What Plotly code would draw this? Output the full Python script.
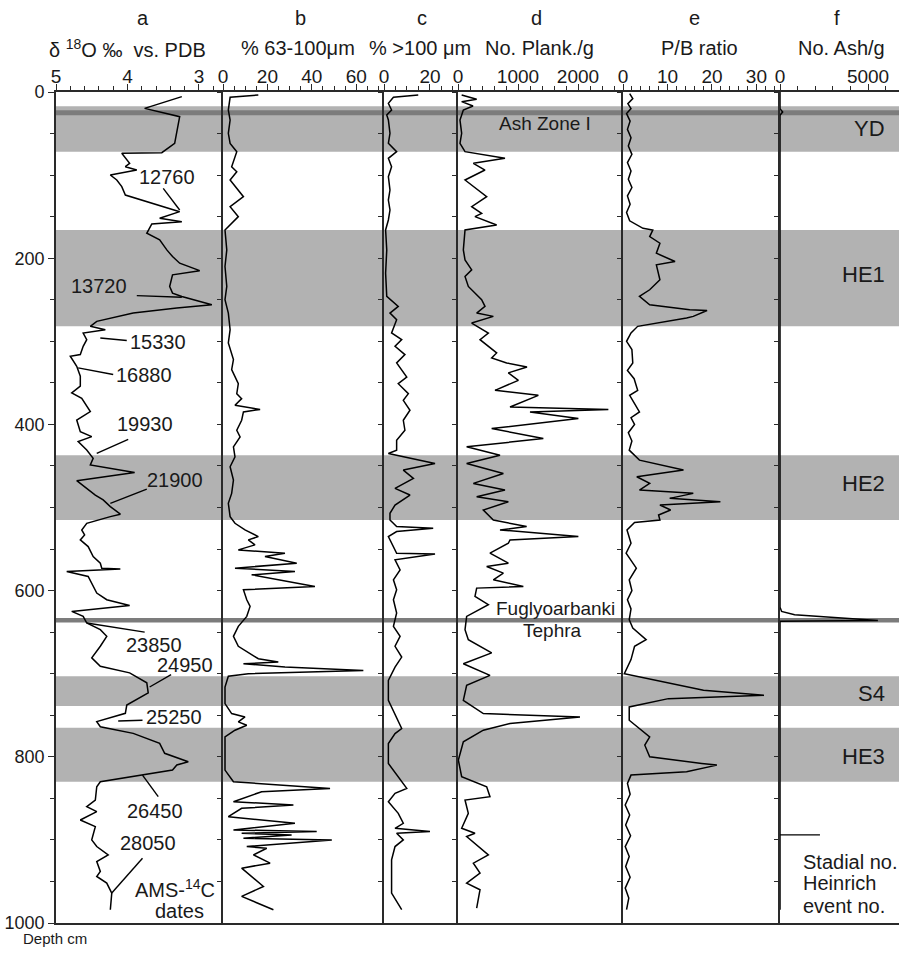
import plotly.graph_objects as go

# ---------------- data (depth in cm) ----------------
depth_a = [5.6, 19.7, 29.7, 61.8, 73, 73.8, 85.8, 89.9, 93.9, 99.9, 105.9, 113.9, 124, 144, 152, 156, 158.8, 170, 178,
           190, 198, 206, 215, 220, 234, 242, 246, 256, 260, 266, 276, 282, 286, 290, 298, 306, 316, 318, 330, 342, 354,
           362, 368.6, 384.6, 394.7, 408.7, 414.7, 420.7, 430.8, 440.8, 448.8, 458, 467.7, 478, 485, 490.9, 498.9, 508,
           511, 519, 527, 533, 539, 547, 553, 559, 567, 573, 574, 577, 583, 603, 611, 618, 625, 631, 639, 647, 655, 667,
           681, 691, 699, 711, 723, 737.7, 747.7, 757.7, 763.8, 771.8, 783.8, 795.8, 805.9, 809.9, 815.9, 822, 830, 836,
           852, 860, 866, 876, 884, 900, 908, 918, 926, 938, 944, 952, 964, 984]
d18o = [3.24, 3.76, 3.27, 3.34, 3.52, 4.08, 3.97, 4.03, 3.87, 4.24, 4.15, 4.08, 4.03, 3.27, 3.55, 3.24, 3.66, 3.73, 3.55,
        3.45, 3.37, 3.27, 2.99, 3.37, 3.41, 3.37, 3.24, 2.82, 3.31, 3.92, 4.43, 4.52, 4.31, 4.62, 4.57, 4.62, 4.66, 4.80,
        4.71, 4.66, 4.66, 4.78, 4.64, 4.52, 4.71, 4.66, 4.50, 4.69, 4.57, 4.48, 4.52, 3.90, 4.71, 4.55, 4.45, 4.34, 4.24,
        4.10, 4.24, 4.57, 4.64, 4.60, 4.66, 4.55, 4.52, 4.48, 4.38, 4.36, 4.10, 4.85, 4.55, 4.43, 4.29, 3.97, 4.78, 4.62,
        4.57, 4.38, 4.29, 4.38, 4.50, 4.38, 3.97, 3.73, 3.71, 4.01, 4.03, 4.43, 4.38, 3.92, 3.55, 3.48, 3.15, 3.31, 3.37,
        3.83, 4.38, 4.43, 4.45, 4.57, 4.43, 4.66, 4.45, 4.50, 4.43, 4.27, 4.43, 4.38, 4.43, 4.29, 4.22, 4.24]

depth_b = [3.6, 6.4, 21.7, 33.7, 49.7, 61.8, 71.8, 89.9, 95.9, 105.9, 126, 138, 150, 156, 166, 190, 210, 234, 250, 266,
           286, 302, 322, 334, 351, 363, 369, 377, 382, 385, 395, 407, 415, 427, 439, 451, 467, 483, 495, 511, 519, 527,
           531, 535, 539, 545, 551, 555, 559, 567, 573, 577, 581, 595, 599, 611, 619, 631, 643, 655, 667, 682, 686, 688,
           692, 696, 700, 703, 716, 736, 748, 752, 758, 762, 768, 776, 816, 830, 838, 842, 854, 858, 862, 872, 880, 888,
           890, 892, 894, 898, 900, 908, 910, 918, 928, 934, 956, 968, 984]
pct_63_100 = [15.9, 3.2, 2.4, 3.2, 2.4, 3.2, 6.2, 3.9, 6.2, 3.2, 9.2, 3.2, 6.9, 4.7, 0.9, 1.7, 0.9, 1.7, 0.9, 2.4,
              3.2, 2.4, 4.7, 3.9, 6.9, 6.2, 8.4, 5.4, 16.7, 9.2, 8.4, 6.2, 7.7, 4.7, 5.4, 3.2, 4.7, 3.9, 2.4, 3.2, 5.4, 9.9,
              12.9, 15.9, 11.4, 14.4, 6.9, 27.9, 18.9, 33.2, 5.4, 32.4, 12.9, 41.4, 9.2, 10.7, 12.2, 10.7, 6.9, 4.7, 6.9,
              15.9, 24.9, 9.2, 27.9, 63.2, 11.4, 2.4, 0.9, 0.9, 3.9, 9.9, 6.9, 10.7, 5.4, 0.9, 0.9, 4.7, 48.2, 17.4, 4.7,
              31.7, 8.4, 2.4, 32.4, 4.7, 42.2, 8.4, 30.9, 9.2, 49.0, 10.7, 19.7, 13.7, 21.2, 8.4, 18.2, 8.4, 22.7]

depth_c = [3.6, 6.4, 13.6, 21.7, 27.7, 33.7, 49.7, 61.8, 71.8, 79.8, 89.9, 101.9, 118, 130, 142, 154, 166, 190, 218, 246,
           258, 266, 274, 290, 298, 306, 316, 326, 343, 351, 363, 371, 383, 395, 407, 419, 431, 435, 447, 455, 465, 477,
           485, 497, 507, 515, 523, 525, 529, 535, 555, 556, 563, 575, 587, 599, 611, 627, 643, 655, 667, 680, 692, 708,
           732, 748, 766, 772, 784, 808, 822, 838, 844, 854, 868, 880, 886, 890, 892, 900, 908, 924, 964, 984]
pct_gt_100 = [14.9, 4.1, 1.9, 3.3, 1.2, 1.9, 2.6, 1.9, 5.5, 1.9, 3.3, 1.9, 2.6, 1.9, 2.6, 1.9, 0.7, 1.2, 0.7, 1.2,
              6.2, 2.6, 5.5, 3.3, 7.7, 4.8, 9.1, 5.5, 9.9, 6.2, 10.6, 8.4, 11.3, 8.4, 9.1, 5.5, 5.5, 1.9, 22.2, 8.4, 12.8,
              4.8, 11.3, 4.8, 2.6, 2.6, 5.5, 21.4, 5.5, 1.9, 5.5, 22.2, 4.8, 7.0, 4.1, 5.5, 4.1, 5.5, 4.1, 7.0, 4.8, 7.7,
              4.8, 1.9, 1.9, 4.8, 7.7, 4.8, 1.9, 1.9, 5.5, 9.9, 4.8, 1.9, 6.2, 8.4, 4.8, 20.0, 5.5, 8.4, 4.8, 3.3, 3.3, 7.7]

depth_d = [3.6, 8.8, 11.6, 16.8, 21.7, 33.7, 49.7, 61.8, 71.8, 79.8, 85.8, 93.9, 105.9, 126, 138, 146, 150, 160, 166,
           190, 202, 214, 222, 234, 250, 258, 266, 270, 278, 290, 298, 314, 320, 326, 331, 338, 347, 359, 365, 379, 382,
           385, 393, 405, 417, 427, 437, 447, 459, 471, 479, 487, 493, 503, 515, 523, 527, 535, 539, 543, 555, 567, 571,
           579, 587, 595, 597, 607, 617, 631, 647, 659, 675, 688, 702, 714, 732, 748, 752, 760, 768, 782, 804, 824, 836,
           848, 852, 868, 886, 892, 896, 918, 928, 940, 952, 960, 982]
plank_per_g = [61, 311, 61, 250, 89, 33, 61, 33, 117, 783, 256, 450, 117, 478, 228, 394, 283, 644, 117,
               89, 117, 228, 117, 172, 394, 450, 311, 589, 228, 506, 367, 644, 561, 811, 1150, 839, 1006, 617, 1339, 867,
               2506, 1200, 2006, 561, 1422, 144, 700, 144, 756, 256, 783, 311, 839, 422, 589, 1144, 700, 2006, 867, 839,
               533, 839, 478, 756, 589, 1089, 311, 283, 506, 144, 117, 172, 561, 89, 533, 144, 89, 422, 2033, 867, 422,
               89, 6, 61, 478, 533, 117, 172, 61, 283, 144, 506, 256, 367, 144, 367, 311]

depth_e = [2, 8, 14, 20, 26, 35, 45, 55, 65, 75, 85, 95, 105, 115, 125, 135, 145, 155, 164, 166, 174, 182, 194, 204,
           208, 226, 238, 246, 256, 262, 263, 270, 272, 282, 290, 300, 310, 326, 335, 345, 359, 365, 375, 385, 392, 400,
           410, 420, 431, 443, 455, 463, 471, 479, 483, 489, 493, 497, 503, 509, 515, 518, 527, 543, 555, 573, 587, 600,
           611, 622, 635, 645, 659, 667, 683, 700, 720, 726, 730, 740, 756, 776, 786, 800, 808, 810, 818, 822, 832, 845,
           858, 870, 882, 895, 908, 920, 932, 945, 958, 970, 984]
pb_ratio = [1.5, 2.2, 1.1, 1.8, 0.8, 1.6, 1.0, 1.8, 1.2, 2.0, 1.0, 1.8, 1.2, 2.0, 1.0, 1.6, 0.8, 1.5, 4.5, 6.7, 6.0,
            8.3, 7.5, 11.7, 7.5, 8.3, 6.0, 3.7, 6.0, 15.0, 18.9, 15.8, 14.3, 3.3, 1.8, 0.8, 2.0, 2.2, 1.0, 2.5, 3.3, 1.5,
            2.6, 3.7, 1.8, 2.6, 1.2, 2.0, 1.4, 3.7, 13.6, 3.1, 6.0, 3.7, 15.8, 10.5, 21.9, 8.3, 10.7, 8.0, 8.3, 2.6, 0.9,
            1.8, 0.7, 3.0, 1.4, 2.0, 1.0, 1.8, 1.4, 2.2, 5.2, 2.6, 1.8, 0.3, 18.1, 31.7, 10.2, 1.4, 1.4, 6.0, 4.9, 6.0,
            17.7, 21.1, 14.3, 1.8, 1.0, 1.6, 0.5, 1.5, 0.6, 1.7, 0.5, 1.4, 0.6, 1.6, 0.5, 1.3, 0.8]

depth_f = [0, 20, 24, 28, 620, 625, 629, 636, 637, 984]
ash_per_g = [0, 0, 150, 0, 0, 90, 830, 5560, 0, 0]

# shaded intervals (stadials / Heinrich events) and ash layers
band_top = [17, 166, 437, 703, 765]
band_bottom = [72, 282, 515, 739, 830]
ash_line_top = [22, 633]
ash_line_bottom = [28, 638.5]

# panel-a AMS 14C date labels with leader lines
date_labels = ["12760", "13720", "15330", "16880", "19930", "21900", "23850", "24950", "25250", "26450", "28050"]
date_x = [3.45, 4.40, 3.57, 3.77, 3.76, 3.34, 3.63, 3.20, 3.35, 3.61, 3.72]
date_y = [102, 234, 301, 340, 400, 467, 665, 690, 752, 865, 904]
lead_x0 = [3.50, 3.87, 4.38, 4.69, 4.43, 4.24, 4.57, 3.69, 4.13, 3.79, 4.22]
lead_y0 = [116, 245, 296, 332, 435, 495, 639, 716, 757, 822, 964]
lead_x1 = [3.27, 3.24, 4.01, 4.20, 3.99, 3.73, 3.76, 3.39, 3.79, 3.57, 3.79]
lead_y1 = [142, 247, 299, 340, 418, 478, 650, 701, 756, 848, 922]

event_labels = ["YD", "HE1", "HE2", "S4", "HE3"]
event_depth = [44, 220, 471, 724, 800]

# ---------------- layout constants ----------------
FONT = "Liberation Sans, Arial, sans-serif"
FIG_W, FIG_H = 899, 956
L, R, T, B = 56, 899, 92, 923
edges = [56, 223, 384, 458, 623, 780, 899]
W = R - L


def dom(i):
    return [(edges[i] - L) / W, (edges[i + 1] - L) / W]


def px(xp):
    return (xp - L) / W


xranges = [[5, 2.664], [0, 72.5], [0, 32.2], [0, 2750], [0, 35.3], [0, 6760]]
xticks = [[5, 4, 3], [0, 20, 40, 60], [0, 20], [0, 1000, 2000], [0, 10, 20, 30], [0, 5000]]
xminor = [0.2, 5, 5, 200, 2, 1000]

series = [(d18o, depth_a), (pct_63_100, depth_b), (pct_gt_100, depth_c),
          (plank_per_g, depth_d), (pb_ratio, depth_e), (ash_per_g, depth_f)]

fig = go.Figure()
for i, (xv, dv) in enumerate(series):
    k = "" if i == 0 else str(i + 1)
    fig.add_trace(go.Scatter(x=xv, y=dv, mode="lines", xaxis="x" + k, yaxis="y" + k,
                             line=dict(color="black", width=1.5), showlegend=False, hoverinfo="skip"))

axcol = "#2a2a2a"
TXT = "#1a1a1a"
layout = dict(width=FIG_W, height=FIG_H, margin=dict(l=L, r=FIG_W - R, t=T, b=FIG_H - B, pad=0),
              paper_bgcolor="white", plot_bgcolor="white",
              font=dict(family=FONT, size=19, color=TXT))
for i in range(6):
    k = "" if i == 0 else str(i + 1)
    layout["xaxis" + k] = dict(domain=dom(i), range=xranges[i], side="top", anchor="y" + k,
                               showline=True, linecolor=axcol, linewidth=1.6, mirror=True,
                               showgrid=False, zeroline=False, ticks="outside", ticklen=6, tickwidth=1.3,
                               tickcolor=axcol, tickvals=xticks[i], tickfont=dict(size=19, family=FONT),
                               ticklabelstandoff=-6,
                               minor=dict(dtick=xminor[i], ticks="outside", ticklen=4, tickwidth=1.1,
                                          tickcolor=axcol, showgrid=False))
    ya = dict(domain=[0, 1], range=[1000, 0], anchor="x" + k, showline=True, linecolor=axcol,
              linewidth=1.6, showgrid=False, zeroline=False, ticks="outside", tickcolor=axcol,
              tickwidth=1.2)
    if i == 0:
        ya.update(tickvals=[0, 200, 400, 600, 800, 1000], ticklen=6, tickfont=dict(size=18, family=FONT),
                  minor=dict(dtick=50, ticks="outside", ticklen=4, tickwidth=1.1, tickcolor=axcol, showgrid=False))
    else:
        ya.update(matches="y", showticklabels=False, dtick=50, ticklen=4)
    layout["yaxis" + k] = ya
fig.update_layout(**layout)

# shaded bands
for t0, t1 in zip(band_top, band_bottom):
    fig.add_shape(type="rect", xref="paper", yref="y", x0=0, x1=1, y0=t0, y1=t1,
                  fillcolor="#b2b2b2", line=dict(width=0), layer="below")
for t0, t1 in zip(ash_line_top, ash_line_bottom):
    fig.add_shape(type="rect", xref="paper", yref="y", x0=0, x1=1, y0=t0, y1=t1,
                  fillcolor="#7c7c7c", line=dict(width=0), layer="below")


def note(x, y, text, xref, yref, size=20, xanchor="center", yshift=0):
    fig.add_annotation(x=x, y=y, xref=xref, yref=yref, text=text, showarrow=False,
                       xanchor=xanchor, yanchor="middle", yshift=yshift,
                       font=dict(size=size, family=FONT, color=TXT))


# date leaders and labels
for lab, x, y, x0, y0, x1, y1 in zip(date_labels, date_x, date_y, lead_x0, lead_y0, lead_x1, lead_y1):
    fig.add_shape(type="line", xref="x", yref="y", x0=x0, y0=y0, x1=x1, y1=y1,
                  line=dict(color="black", width=1.4))
    note(x, y, lab, "x", "y")
note(3.33, 959, "AMS-<sup>14</sup>C", "x", "y")
note(3.27, 986, "dates", "x", "y")

# panel d labels
note(1450, 38.5, "Ash Zone I", "x4", "y", size=19)
note(1617, 621, "Fuglyoarbanki", "x4", "y", size=19)
note(1567, 648, "Tephra", "x4", "y", size=19)

# event labels in panel f
for lab, d in zip(event_labels, event_depth):
    note(6080, d, lab, "x6", "y", size=22, xanchor="right")
fig.add_shape(type="line", xref="x6", yref="y", x0=0, x1=2270, y0=894, y1=894,
              line=dict(color="black", width=1.4))
for txt, d in zip(["Stadial no.", "Heinrich", "event no."], [926, 952, 980]):
    note(1190, d, txt, "x6", "y", size=20, xanchor="left")

# column headers
letters = ["a", "b", "c", "d", "e", "f"]
letter_px = [143, 300, 422, 536, 694, 837]
titles = ["δ <sup>18</sup>O ‰  vs. PDB", "% 63-100μm", "% >100 μm", "No. Plank./g", "P/B ratio", "No. Ash/g"]
title_px = [127, 298, 420, 539, 699, 841]
for lt, lx in zip(letters, letter_px):
    note(px(lx), 1, lt, "paper", "paper", size=20, yshift=74)
for tt, tx in zip(titles, title_px):
    note(px(tx), 1, tt, "paper", "paper", size=20, yshift=44)

note(px(55), 0, "Depth cm", "paper", "paper", size=15, yshift=-15)

fig.write_html("out.html")
